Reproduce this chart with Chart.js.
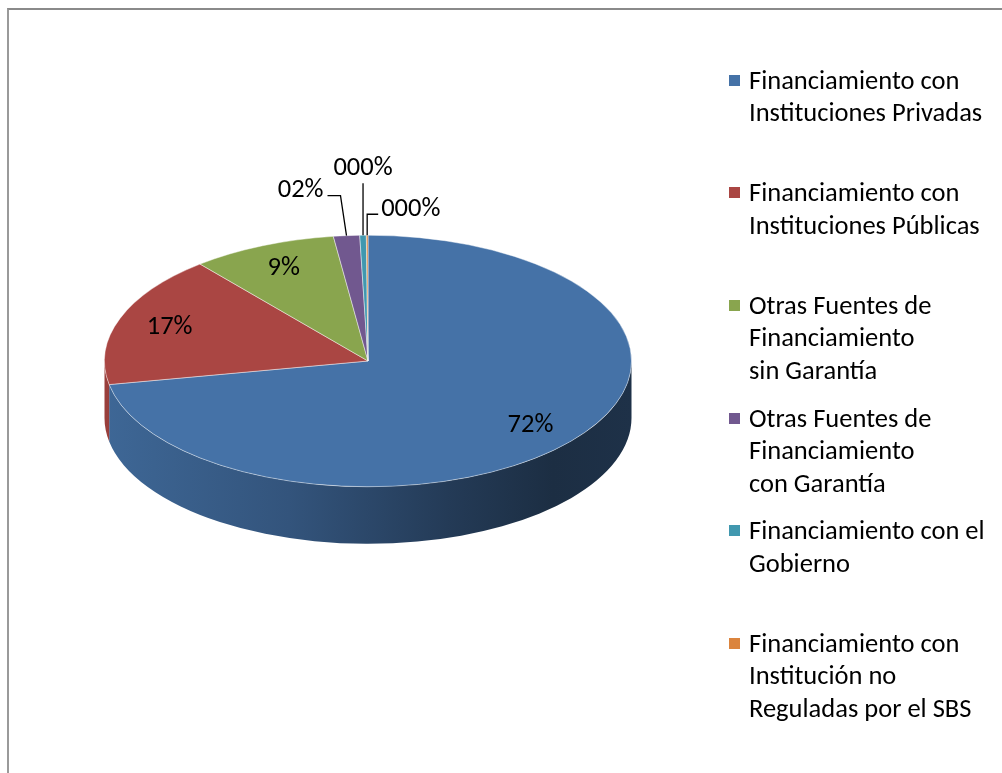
<!DOCTYPE html>
<html>
<head>
<meta charset="utf-8">
<script src="https://cdn.jsdelivr.net/npm/chart.js@4.4.1/dist/chart.umd.min.js"></script>
<style>
  html, body { margin: 0; padding: 0; background: #fff; overflow: hidden; }
  #wrap { position: relative; width: 1002px; height: 773px; }
  #frame { position: absolute; left: 7px; top: 8px; width: 1200px; height: 1000px;
           border-top: 2px solid #8a8a8a; border-left: 2px solid #9a9a9a; }
  #pie { position: absolute; left: 0; top: 0; }
  #legend { position: absolute; left: 729px; top: 0; font-family: Carlito, Calibri, Lato, sans-serif;
            font-size: 26.5px; color: #000; }
  .item { position: absolute; left: 0; white-space: nowrap; }
  .box { position: absolute; left: 0; width: 11px; height: 11px; }
  .txt { position: absolute; left: 20px; top: 0; line-height: 32.6px; }
</style>
</head>
<body>
<div id="wrap">
  <div id="frame"></div>
  <canvas id="pie" width="1002" height="773"></canvas>
  <div id="legend"></div>
</div>
<script>
// ===============================
// Data
// ===============================
const categories = [
  ["Financiamiento con", "Instituciones Privadas"],
  ["Financiamiento con", "Instituciones Públicas"],
  ["Otras Fuentes de", "Financiamiento", "sin Garantía"],
  ["Otras Fuentes de", "Financiamiento", "con Garantía"],
  ["Financiamiento con el", "Gobierno"],
  ["Financiamiento con", "Institución no", "Reguladas por el SBS"]
];
const shares = [72.0, 17.0, 8.9, 1.6, 0.4, 0.1];
const shareLabels = ["72%", "17%", "9%", "02%", "000%", "000%"];
const colors = ["#4572A7", "#AA4643", "#89A54E", "#71588F", "#4198AF", "#DB843D"];

// ===============================
// Look of the 3D pie
// ===============================
const TILT = 126 / 264;   // vertical squash of the top face
const DEPTH = 57;         // thickness of the side
const LABEL_POS = 0.8;    // label distance, fraction of radius
const LABEL_FONT = "26.5px Carlito, Calibri, Lato, sans-serif";
// leader lines of the thin slices, relative to the rim point
const leaders = {
  3: { pts: [[-6, -40], [-19, -40]], text: [-23, -45], align: "right" },
  4: { pts: [[0, -52]], text: [0, -67], align: "center" },
  5: { pts: [[0, -21], [11, -21]], text: [14, -26], align: "left" }
};

function shade(hex, f) {
  const n = parseInt(hex.slice(1), 16);
  const r = Math.round(((n >> 16) & 255) * f);
  const g = Math.round(((n >> 8) & 255) * f);
  const b = Math.round((n & 255) * f);
  return `rgb(${r},${g},${b})`;
}

const pie3d = {
  id: "pie3d",
  beforeDatasetsDraw(chart) {
    const ctx = chart.ctx;
    const arcs = chart.getDatasetMeta(0).data;
    const { x: cx, y: cy, outerRadius: r } = arcs[0];
    const ry = r * TILT;

    // side wall, only the front half can be seen
    arcs.forEach((arc, i) => {
      const a = Math.max(arc.startAngle, 0);
      const b = Math.min(arc.endAngle, Math.PI);
      if (a >= b) return;
      const g = ctx.createLinearGradient(cx - r, 0, cx + r, 0);
      g.addColorStop(0, shade(colors[i], 0.9));
      g.addColorStop(0.35, shade(colors[i], 0.74));
      g.addColorStop(0.65, shade(colors[i], 0.52));
      g.addColorStop(0.85, shade(colors[i], 0.4));
      g.addColorStop(1, shade(colors[i], 0.43));
      ctx.beginPath();
      ctx.ellipse(cx, cy, r, ry, 0, a, b);
      ctx.ellipse(cx, cy + DEPTH, r, ry, 0, b, a, true);
      ctx.closePath();
      ctx.fillStyle = g;
      ctx.fill();
    });

    // squash the top face
    ctx.save();
    ctx.translate(cx, cy);
    ctx.scale(1, TILT);
    ctx.translate(-cx, -cy);
  },
  afterDatasetsDraw(chart) {
    const ctx = chart.ctx;
    ctx.restore();

    const arcs = chart.getDatasetMeta(0).data;
    ctx.save();
    ctx.font = LABEL_FONT;
    ctx.fillStyle = "#000";
    ctx.strokeStyle = "#000";
    ctx.lineWidth = 1.3;
    ctx.textBaseline = "middle";
    arcs.forEach((arc, i) => {
      const mid = (arc.startAngle + arc.endAngle) / 2;
      const r = arc.outerRadius;
      const lead = leaders[i];
      if (!lead) {
        ctx.textAlign = "center";
        ctx.fillText(shareLabels[i],
          arc.x + LABEL_POS * r * Math.cos(mid),
          arc.y + LABEL_POS * r * TILT * Math.sin(mid));
        return;
      }
      const px = arc.x + r * Math.cos(mid);
      const py = arc.y + r * TILT * Math.sin(mid);
      ctx.beginPath();
      ctx.moveTo(px, py);
      lead.pts.forEach(p => ctx.lineTo(px + p[0], py + p[1]));
      ctx.stroke();
      ctx.textAlign = lead.align;
      ctx.fillText(shareLabels[i], px + lead.text[0], py + lead.text[1]);
    });
    ctx.restore();
  }
};

new Chart(document.getElementById("pie"), {
  type: "pie",
  data: {
    labels: categories.map(c => c.join(" ")),
    datasets: [{
      data: shares,
      backgroundColor: colors,
      borderColor: "rgba(255,255,255,0.6)",
      borderWidth: 1,
      clip: false
    }]
  },
  options: {
    responsive: false,
    animation: false,
    events: [],
    layout: { padding: { left: 104, right: 370, top: 97, bottom: 148 } },
    plugins: {
      legend: { display: false },
      tooltip: { enabled: false }
    }
  },
  plugins: [pie3d]
});

// ===============================
// Legend (right side, fixed slots)
// ===============================
const legendEl = document.getElementById("legend");
const SLOT = 112.6;
categories.forEach((lines, i) => {
  const item = document.createElement("div");
  item.className = "item";
  item.style.top = (80 + i * SLOT - 16.3) + "px";
  const box = document.createElement("div");
  box.className = "box";
  box.style.top = "11px";
  box.style.background = colors[i];
  const txt = document.createElement("div");
  txt.className = "txt";
  txt.innerHTML = lines.join("<br>");
  item.appendChild(box);
  item.appendChild(txt);
  legendEl.appendChild(item);
});
</script>
</body>
</html>
